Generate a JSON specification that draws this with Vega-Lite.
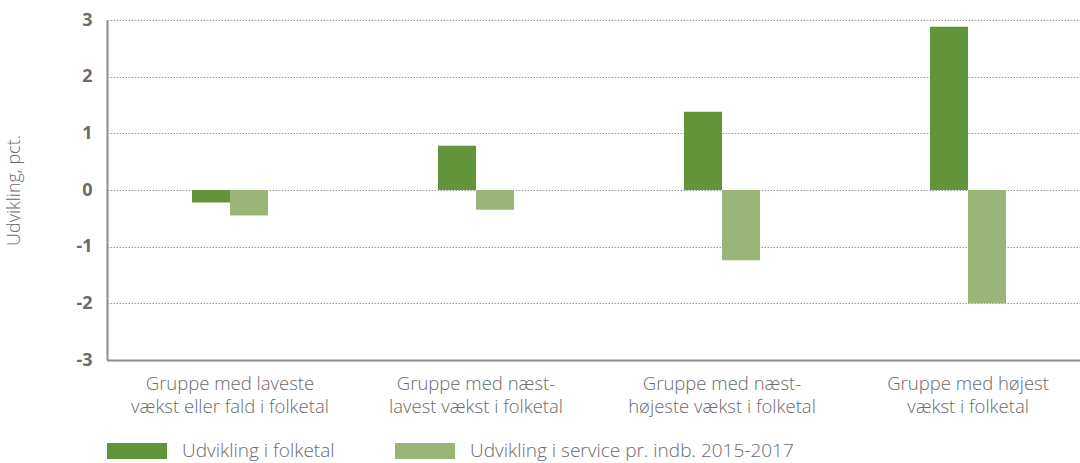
{
  "$schema": "https://vega.github.io/schema/vega-lite/v6.json",
  "autosize": "none",
  "width": 984,
  "height": 340,
  "padding": {"left": 107, "top": 20, "right": 0, "bottom": 103},
  "background": "white",
  "config": {
    "view": {"stroke": null},
    "font": "Open Sans",
    "axis": {"labelFont": "Open Sans", "titleFont": "Open Sans"}
  },
  "data": {
    "values": [
      {"gruppe": "Gruppe med laveste|vækst eller fald i folketal", "serie": "Udvikling i folketal", "v": -0.22},
      {"gruppe": "Gruppe med laveste|vækst eller fald i folketal", "serie": "Udvikling i service pr. indb. 2015-2017", "v": -0.45},
      {"gruppe": "Gruppe med næst-|lavest vækst i folketal", "serie": "Udvikling i folketal", "v": 0.78},
      {"gruppe": "Gruppe med næst-|lavest vækst i folketal", "serie": "Udvikling i service pr. indb. 2015-2017", "v": -0.35},
      {"gruppe": "Gruppe med næst-|højeste vækst i folketal", "serie": "Udvikling i folketal", "v": 1.38},
      {"gruppe": "Gruppe med næst-|højeste vækst i folketal", "serie": "Udvikling i service pr. indb. 2015-2017", "v": -1.24},
      {"gruppe": "Gruppe med højest|vækst i folketal", "serie": "Udvikling i folketal", "v": 2.88},
      {"gruppe": "Gruppe med højest|vækst i folketal", "serie": "Udvikling i service pr. indb. 2015-2017", "v": -2.0}
    ]
  },
  "mark": {"type": "bar"},
  "encoding": {
    "x": {
      "field": "gruppe",
      "type": "nominal",
      "sort": null,
      "scale": {"paddingInner": 0.691, "paddingOuter": 0.3455},
      "axis": {
        "title": null,
        "labelAngle": 0,
        "labelExpr": "split(datum.label, '|')",
        "labelFontSize": 18.5,
        "labelFontWeight": 300,
        "labelColor": "#6b6b6b",
        "labelLineHeight": 23,
        "labelPadding": 14,
        "labelLimit": 400,
        "ticks": false,
        "domainColor": "#8c8c8c",
        "domainWidth": 2,
        "grid": false
      }
    },
    "xOffset": {"field": "serie", "type": "nominal", "sort": null},
    "y": {
      "field": "v",
      "type": "quantitative",
      "scale": {"domain": [-3, 3], "nice": false},
      "axis": {
        "title": "Udvikling, pct.",
        "titleFontSize": 18,
        "titleFontWeight": 300,
        "titleColor": "#6b6b6b",
        "titlePadding": 52,
        "values": [-3, -2, -1, 0, 1, 2, 3],
        "labelExpr": "replace(datum.label, '−', '-')",
        "labelFontSize": 18,
        "labelFontWeight": "bold",
        "labelColor": "#6b6b6b",
        "labelPadding": 15,
        "ticks": false,
        "domainColor": "#8c8c8c",
        "domainWidth": 2,
        "grid": true,
        "gridColor": "#999999",
        "gridDash": [1.5, 1.5],
        "gridWidth": 1
      }
    },
    "color": {
      "field": "serie",
      "type": "nominal",
      "sort": null,
      "scale": {"range": ["#62953a", "#9bb579"]},
      "legend": {
        "title": null,
        "orient": "none",
        "legendX": 0,
        "legendY": 401,
        "direction": "horizontal",
        "columns": 2,
        "columnPadding": 60,
        "symbolType": "M-1,-0.27L1,-0.27L1,0.27L-1,0.27Z",
        "symbolSize": 3600,
        "symbolStrokeWidth": 0,
        "labelOffset": 15,
        "labelFontSize": 19,
        "labelFontWeight": 300,
        "labelLimit": 500,
        "labelColor": "#6b6b6b",
        "labelFont": "Open Sans"
      }
    }
  }
}
